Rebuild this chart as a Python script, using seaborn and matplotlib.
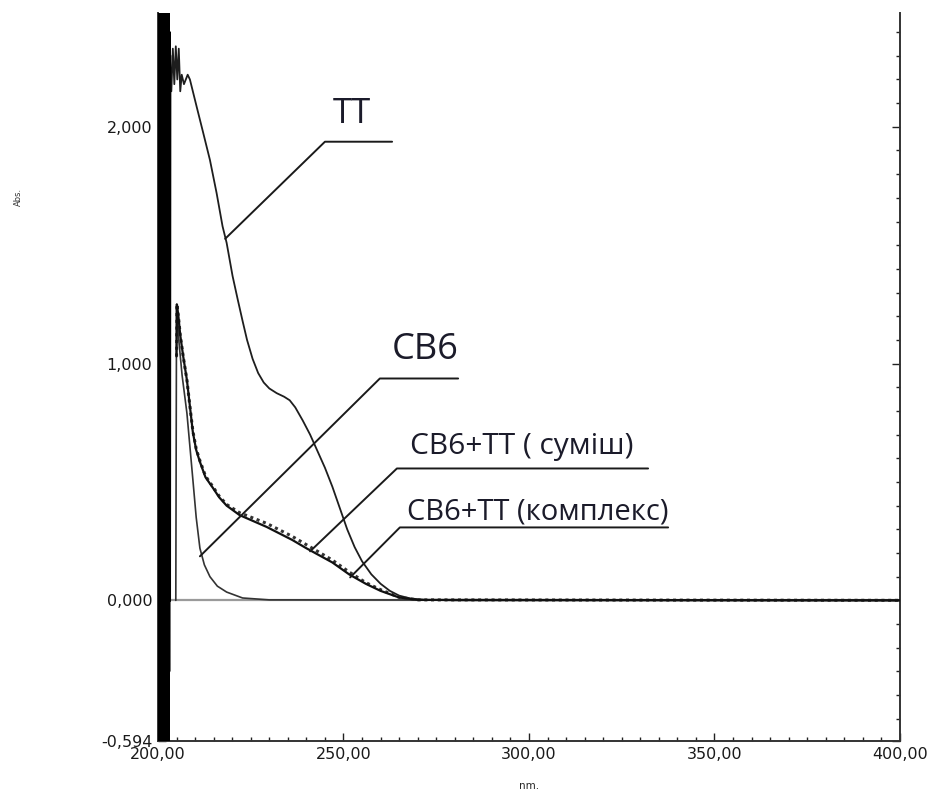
import matplotlib
matplotlib.use("Agg")
import matplotlib.pyplot as plt
import seaborn as sns
import pandas as pd
from matplotlib.ticker import MultipleLocator, FixedLocator

# ---------------- data ----------------
wl_noise = [200.0, 200.1, 200.2, 200.3, 200.4, 200.5, 200.6, 200.7, 200.8, 200.9,
            201.0, 201.1, 201.2, 201.3, 201.4, 201.5, 201.6, 201.7, 201.8, 201.9,
            202.0, 202.1, 202.2, 202.3, 202.4, 202.5, 202.6, 202.7, 202.8, 202.9,
            203.0, 203.1, 203.2]
abs_noise = [2.6, -0.7, 2.7, -0.75, 2.6, -0.7, 2.65, -0.7, 2.6, -0.72,
             2.7, -0.7, 2.6, -0.75, 2.65, -0.7, 2.6, -0.7, 2.7, -0.72,
             2.6, -0.7, 2.65, -0.7, 2.6, -0.75, 2.6, -0.7, 2.65, -0.3,
             2.4, 0.0, 2.3]

wl_tt = [203.2, 203.6, 204.0, 204.4, 204.8, 205.2, 205.6, 206.0, 206.4, 207.0,
         208.0, 208.6, 210.5, 212.1, 214.0, 215.8, 217.4, 218.5, 220.1, 221.5,
         222.8, 224.0, 225.5, 227.0, 228.5, 230.0, 232.0, 234.0, 235.5, 237.0,
         239.0, 241.0, 243.0, 245.0, 247.0, 249.0, 251.0, 253.0, 255.0, 257.5,
         260.0, 262.5, 265.0, 268.0, 272.0, 280.0, 400.0]
abs_tt = [2.30, 2.15, 2.33, 2.18, 2.34, 2.20, 2.33, 2.15, 2.22, 2.18,
          2.22, 2.20, 2.08, 1.98, 1.86, 1.72, 1.58, 1.51, 1.37, 1.27,
          1.18, 1.10, 1.02, 0.96, 0.92, 0.895, 0.875, 0.86, 0.845, 0.815,
          0.76, 0.70, 0.63, 0.56, 0.48, 0.39, 0.30, 0.225, 0.165, 0.11,
          0.07, 0.04, 0.02, 0.008, 0.002, 0.0, 0.0]

wl_cb6 = [204.8, 205.0, 205.6, 206.5, 207.8, 208.6, 209.4, 210.3, 211.3, 212.5,
          214.0, 216.0, 218.5, 222.8, 230.0, 400.0]
abs_cb6 = [0.0, 1.25, 1.10, 0.95, 0.79, 0.65, 0.51, 0.35, 0.22, 0.15,
           0.10, 0.06, 0.035, 0.01, 0.002, 0.0]

wl_mix = [205.0, 205.1, 205.5, 206.0, 206.8, 207.8, 208.6, 209.4, 210.3, 211.3,
          212.8, 214.8, 216.5, 218.5, 222.0, 229.3, 236.2, 240.0, 247.0, 251.5,
          256.0, 260.0, 265.0, 270.0, 400.0]
abs_mix = [1.03, 1.25, 1.20, 1.12, 1.03, 0.93, 0.82, 0.715, 0.64, 0.59,
           0.525, 0.48, 0.44, 0.405, 0.37, 0.325, 0.27, 0.235, 0.17, 0.12,
           0.075, 0.045, 0.013, 0.002, 0.0]

wl_cx = [205.0, 205.1, 205.5, 206.0, 206.8, 207.8, 208.6, 209.4, 210.3, 211.3,
         212.8, 214.8, 216.5, 218.5, 222.0, 229.3, 236.2, 240.0, 247.0, 251.5,
         256.0, 260.0, 265.0, 270.0, 400.0]
abs_cx = [1.03, 1.25, 1.20, 1.12, 1.03, 0.93, 0.82, 0.71, 0.635, 0.585,
          0.52, 0.475, 0.435, 0.40, 0.36, 0.31, 0.255, 0.22, 0.16, 0.11,
          0.07, 0.04, 0.012, 0.002, 0.0]

labels = ["ТТ", "СВ6", "СВ6+ТТ ( суміш)", "СВ6+ТТ (комплекс)"]
x_ticks = [200, 250, 300, 350, 400]
x_ticklabels = ["200,00", "250,00", "300,00", "350,00", "400,00"]
y_ticks = [-0.594, 0.0, 1.0, 2.0]
y_ticklabels = ["-0,594", "0,000", "1,000", "2,000"]

# ---------------- figure ----------------
sns.set_style("ticks")
plt.rcParams["font.family"] = ["DejaVu Sans"]

fig = plt.figure(figsize=(9.31, 7.92), dpi=100)
ax = fig.add_axes([0.1697, 0.0644, 0.797, 0.919])

ax.axhline(0, color="#9a9a9a", lw=1.6, zorder=1)

def draw(wl, ab, **kw):
    df = pd.DataFrame({"wl": wl, "abs": ab})
    sns.lineplot(data=df, x="wl", y="abs", ax=ax, sort=False,
                 estimator=None, legend=False, **kw)

draw(wl_noise, abs_noise, color="black", lw=2.2, zorder=5)
draw(wl_tt, abs_tt, color="#1e1e1e", lw=1.3, zorder=3)
draw(wl_cb6, abs_cb6, color="#333333", lw=1.2, zorder=3)
draw(wl_mix, abs_mix, color="#333333", lw=2.2, linestyle=(0, (1, 1.2)), zorder=3)
draw(wl_cx, abs_cx, color="#111111", lw=1.6, zorder=4)

ax.set_xlim(200, 400)
ax.set_ylim(-0.594, 2.48)

ax.xaxis.set_major_locator(FixedLocator(x_ticks))
ax.set_xticklabels(x_ticklabels)
ax.xaxis.set_minor_locator(MultipleLocator(5))
ax.yaxis.set_major_locator(FixedLocator(y_ticks))
ax.set_yticklabels(y_ticklabels)
ax.yaxis.set_minor_locator(MultipleLocator(0.1))

ax.tick_params(axis="both", which="both", direction="in", colors="#222222",
               labelsize=11.5, labelcolor="#1a1a1a")
ax.tick_params(axis="y", which="both", left=True, right=True, pad=4)
ax.tick_params(axis="x", which="both", bottom=True, top=False, pad=4)
ax.tick_params(which="major", length=6, width=1.0)
ax.tick_params(which="minor", length=3, width=1.0)

ax.spines["top"].set_visible(False)
for s in ["left", "right", "bottom"]:
    ax.spines[s].set_linewidth(1.4)
    ax.spines[s].set_color("#333333")

ax.set_xlabel("nm.", fontsize=7.5, labelpad=14)
ax.set_ylabel("")
fig.text(18 / 931, 1 - 197 / 792, "Abs.", rotation=90, fontsize=6,
         ha="center", va="center", color="#333333")

# ---------------- annotations ----------------
ann_font = ["Open Sans", "DejaVu Sans"]
ann = [
    # label, text (x,y baseline), underline x0, x1, y, leader end (x,y), fontsize
    (labels[0], (252.3, 2.017), 245.0, 263.1, 1.937, (218.1, 1.527), 25),
    (labels[1], (272.0, 1.02), 259.8, 280.9, 0.937, (211.3, 0.186), 26),
    (labels[2], (298.0, 0.62), 264.4, 332.1, 0.557, (241.0, 0.207), 21.5),
    (labels[3], (302.3, 0.34), 265.2, 337.5, 0.308, (251.8, 0.097), 21),
]
for txt, (tx, ty), x0, x1, uy, (lx, ly), fs in ann:
    ax.plot([lx, x0, x1], [ly, uy, uy], color="#1a1a1a", lw=1.4, zorder=6)
    ax.text(tx, ty, txt, ha="center", va="baseline", fontsize=fs,
            family=ann_font, color="#1b1b2a", zorder=7)

fig.savefig("out.png", dpi=100, facecolor="white")
